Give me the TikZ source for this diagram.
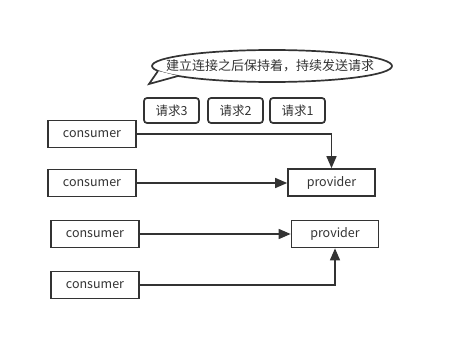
\documentclass[tikz,border=0pt]{standalone}
\usepackage{fontspec}
\setmainfont{Noto Sans CJK SC}
\definecolor{dkgray}{RGB}{51,51,51}
\usetikzlibrary{arrows.meta,positioning,shapes.geometric,calc}

\begin{document}
\begin{tikzpicture}[x=1pt, y=-1pt,
    box/.style={draw=dkgray, line width=1.7pt, minimum width=88pt, minimum height=27pt, inner sep=0pt, text=dkgray, font=\fontsize{12.5}{14}\selectfont},
    reqbox/.style={draw=dkgray, line width=1.7pt, rounded corners=3pt, minimum width=55pt, minimum height=25pt, inner sep=0pt, text=dkgray, font=\fontsize{12.5}{14}\selectfont},
    link/.style={draw=dkgray, line width=1.5pt, -{Triangle[length=12pt, width=10pt]}}]
  \useasboundingbox (0,0) rectangle (455,361);
  % Callout
  \draw[dkgray, line width=1.7pt] (272,66) ellipse [x radius=120, y radius=16];
  \fill[white] (158,71) -- (149,84) -- (178,76) -- cycle;
  \draw[dkgray, line width=1.7pt, line join=miter] (158,71) -- (149,84) -- (178,76);
  \node[text=dkgray, font=\fontsize{13}{15}\selectfont] (note) at (270,66) {建立连接之后保持着，持续发送请求};
  % Requests
  \node[reqbox] (req3) at (171.5,110.5) {请求3};
  \node[reqbox] (req2) at (235.5,110.5) {请求2};
  \node[reqbox] (req1) at (297.5,110.5) {请求1};
  % Consumers
  \node[box] (con1) at (92,134) {consumer};
  \node[box] (con2) at (92,183) {consumer};
  \node[box] (con3) at (95,234) {consumer};
  \node[box] (con4) at (95,285) {consumer};
  % Providers
  \node[box, minimum width=87pt] (prov1) at (331.5,182.5) {provider};
  \node[box, minimum width=87pt] (prov2) at (335,234) {provider};
  % Links
  \draw[link] (con1.east) -| (prov1.north);
  \draw[link] (con2.east) -- (con2.east -| prov1.west);
  \draw[link] (con3.east) -- (prov2.west);
  \draw[link] (con4.east) -| (prov2.south);
\end{tikzpicture}
\end{document}
